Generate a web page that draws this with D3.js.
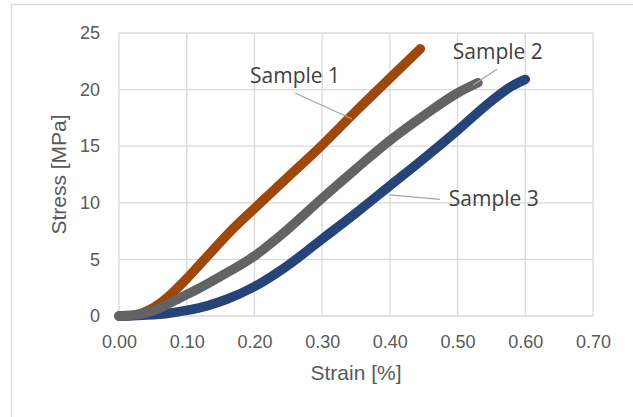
<!DOCTYPE html>
<html>
<head>
<meta charset="utf-8">
<script src="https://cdn.jsdelivr.net/npm/d3@7"></script>
<style>
  body { margin: 0; background: #fff; }
  svg { display: block; }
  .tick text { fill: #595959; font-family: "Liberation Sans", Arial, sans-serif; font-size: 18px; }
  .axis-title { fill: #595959; font-family: "Liberation Sans", Arial, sans-serif; font-size: 21px; }
  .lbl { fill: #404040; font-family: "Open Sans", sans-serif; font-size: 21px; }
</style>
</head>
<body>
<svg id="chart" width="633" height="417"></svg>
<script>
// data (strain in %, stress in MPa)
var strain1 = [0, 0.02, 0.04, 0.06, 0.08, 0.10, 0.12, 0.14, 0.17, 0.20, 0.25, 0.30, 0.35, 0.40, 0.445];
var stress1 = [0, 0.05, 0.4, 1.1, 2.1, 3.3, 4.6, 5.9, 7.8, 9.5, 12.3, 15.1, 18.1, 21.0, 23.6];

var strain2 = [0, 0.03, 0.06, 0.09, 0.12, 0.15, 0.20, 0.25, 0.30, 0.35, 0.40, 0.45, 0.50, 0.53];
var stress2 = [0, 0.15, 0.7, 1.6, 2.5, 3.5, 5.3, 7.7, 10.4, 13.0, 15.5, 17.7, 19.7, 20.6];

var strain3 = [0, 0.05, 0.10, 0.13, 0.16, 0.20, 0.25, 0.30, 0.35, 0.40, 0.45, 0.50, 0.55, 0.58, 0.60];
var stress3 = [0, 0.1, 0.5, 0.9, 1.5, 2.6, 4.5, 6.8, 9.1, 11.5, 13.9, 16.4, 19.0, 20.3, 20.9];

var xTicks = [0, 0.1, 0.2, 0.3, 0.4, 0.5, 0.6, 0.7];
var yTicks = [0, 5, 10, 15, 20, 25];

var seriesNames = ["Sample 1", "Sample 2", "Sample 3"];
var colors = ["#9e480e", "#636363", "#264478"];

// label text position + leader line, in data units
var labelPos = [
  {text: "Sample 1", x: 0.1935, y: 20.6, x1: 0.26, y1: 19.7, x2: 0.344, y2: 17.4},
  {text: "Sample 2", x: 0.493, y: 22.7, x1: 0.558, y1: 21.8, x2: 0.523, y2: 20.4},
  {text: "Sample 3", x: 0.487, y: 9.7, x1: 0.474, y1: 10.3, x2: 0.40, y2: 10.7}
];

var svg = d3.select("#chart"),
    margin = {top: 33, right: 40, bottom: 101, left: 119},
    width = +svg.attr("width") - margin.left - margin.right,
    height = +svg.attr("height") - margin.top - margin.bottom;

// outer chart border (only left and top visible)
svg.append("path")
    .attr("d", "M11.5,417 V4.5 H633")
    .attr("fill", "none")
    .attr("stroke", "#d9d9d9")
    .attr("stroke-width", 1.3);

var x = d3.scaleLinear().domain([0, 0.7]).range([0, width]);
var y = d3.scaleLinear().domain([0, 25]).range([height, 0]);

var g = svg.append("g")
    .attr("transform", "translate(" + margin.left + "," + margin.top + ")");

// gridlines
g.append("g")
    .selectAll("line.h")
    .data(yTicks)
    .enter().append("line")
    .attr("x1", 0).attr("x2", width)
    .attr("y1", function(d){ return y(d); })
    .attr("y2", function(d){ return y(d); })
    .attr("stroke", "#d9d9d9").attr("stroke-width", 1.3);

g.append("g")
    .selectAll("line.v")
    .data(xTicks)
    .enter().append("line")
    .attr("y1", 0).attr("y2", height)
    .attr("x1", function(d){ return x(d); })
    .attr("x2", function(d){ return x(d); })
    .attr("stroke", "#d9d9d9").attr("stroke-width", 1.3);

// axes (labels only)
var xAxis = g.append("g")
    .attr("transform", "translate(0," + height + ")")
    .call(d3.axisBottom(x).tickValues(xTicks).tickFormat(d3.format(".2f")).tickSize(0).tickPadding(19));
xAxis.select(".domain").remove();

var yAxis = g.append("g")
    .call(d3.axisLeft(y).tickValues(yTicks).tickSize(0).tickPadding(19));
yAxis.select(".domain").remove();

// axis titles
g.append("text")
    .attr("class", "axis-title")
    .attr("x", width / 2)
    .attr("y", height + 64)
    .attr("text-anchor", "middle")
    .text("Strain [%]");

g.append("text")
    .attr("class", "axis-title")
    .attr("transform", "translate(" + (-53) + "," + (height / 2) + ") rotate(-90)")
    .attr("text-anchor", "middle")
    .text("Stress [MPa]");

// curves
var line = d3.line()
    .x(function(d){ return x(d[0]); })
    .y(function(d){ return y(d[1]); })
    .curve(d3.curveMonotoneX);

var series = [
  d3.zip(strain1, stress1),
  d3.zip(strain2, stress2),
  d3.zip(strain3, stress3)
];

// draw order: sample 1, sample 3, sample 2 on top
[0, 2, 1].forEach(function(i){
  g.append("path")
      .datum(series[i])
      .attr("fill", "none")
      .attr("stroke", colors[i])
      .attr("stroke-width", 9.5)
      .attr("stroke-linecap", "round")
      .attr("stroke-linejoin", "round")
      .attr("d", line);
});

// data labels with leader lines
labelPos.forEach(function(l){
  g.append("line")
      .attr("x1", x(l.x1)).attr("y1", y(l.y1))
      .attr("x2", x(l.x2)).attr("y2", y(l.y2))
      .attr("stroke", "#a6a6a6").attr("stroke-width", 1.3);
  g.append("text")
      .attr("class", "lbl")
      .attr("x", x(l.x))
      .attr("y", y(l.y))
      .text(l.text);
});
</script>
</body>
</html>
